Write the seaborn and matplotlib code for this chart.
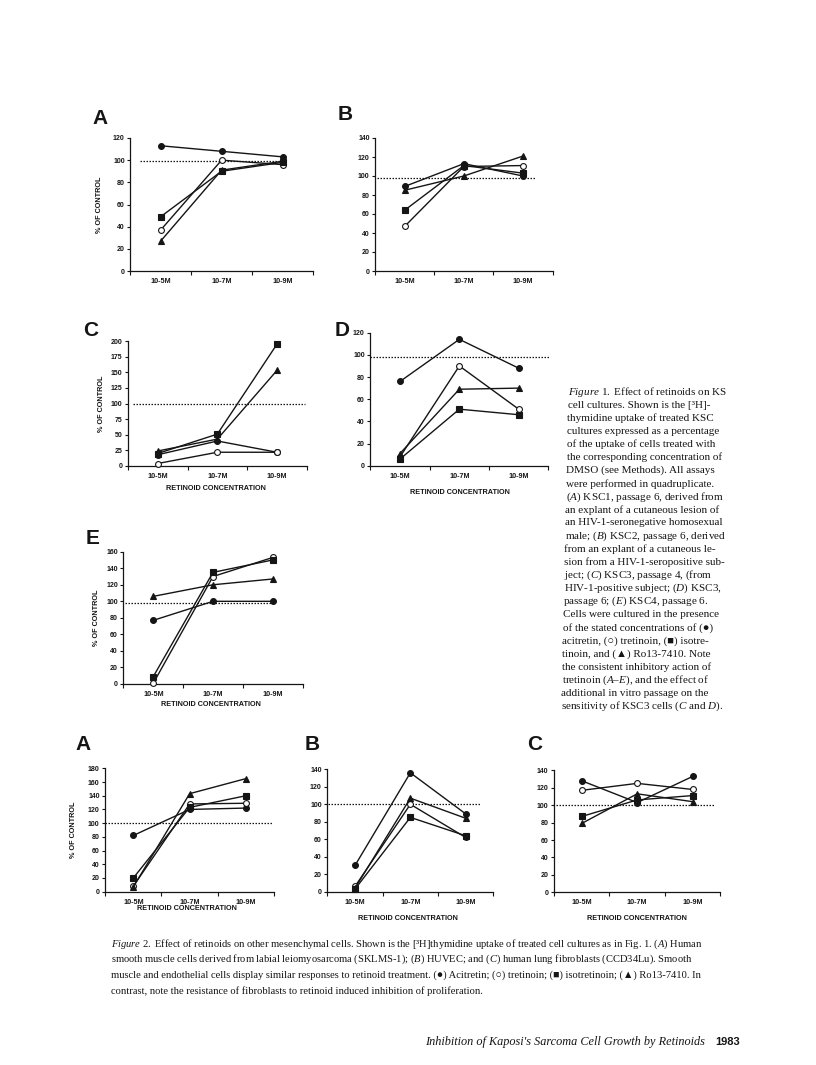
import numpy as np
import pandas as pd
import matplotlib
matplotlib.use("Agg")
import matplotlib.pyplot as plt
import seaborn as sns

sns.set_theme(style="ticks")
plt.rcParams['font.family'] = ['Liberation Sans', 'DejaVu Sans']
plt.rcParams['mathtext.fontset'] = 'custom'
plt.rcParams['mathtext.rm'] = 'Liberation Serif'
plt.rcParams['mathtext.it'] = 'Liberation Serif:italic'

concentrations = ["10-5M", "10-7M", "10-9M"]
retinoids = ["acitretin", "tretinoin", "isotretinoin", "Ro13-7410"]

# % of control; rows follow `retinoids`, columns follow `concentrations`
fig1_a = [[113, 108, 103], [37, 100, 96], [49, 90, 98], [27, 91, 99]]
fig1_b = [[89, 113, 100], [47, 110, 111], [64, 111, 103], [85, 100, 121]]
fig1_c = [[18, 40, 22], [4, 22, 22], [20, 51, 195], [24, 43, 153]]
fig1_d = [[76, 114, 88], [8, 90, 51], [6, 51, 46], [11, 69, 70]]
fig1_e = [[77, 100, 100], [1, 130, 153], [9, 135, 150], [106, 120, 127]]
fig2_a = [[82, 120, 122], [8, 128, 129], [20, 123, 140], [7, 143, 165]]
fig2_b = [[30, 136, 89], [6, 100, 62], [3, 85, 64], [4, 107, 84]]
fig2_c = [[128, 103, 133], [117, 125, 118], [87, 106, 111], [79, 113, 104]]

W, H = 816, 1065
INK = '#151515'

marker_style = {
    "acitretin": dict(marker='o', markerfacecolor=INK),
    "tretinoin": dict(marker='o', markerfacecolor='white'),
    "isotretinoin": dict(marker='s', markerfacecolor=INK),
    "Ro13-7410": dict(marker='^', markerfacecolor=INK),
}

# pixel layout of each panel
panels = [
    dict(data=fig1_a, letter="A", lpos=(100, 118), x0=160.7, x2=282.5, y0=271, ytop=138, ymax=120, step=20,
         ref=(99, -0.34, 2.07), ylab=103, xlab=None),
    dict(data=fig1_b, letter="B", lpos=(345, 115), x0=404.7, x2=523, y0=271, ytop=138, ymax=140, step=20,
         ref=(98, -0.47, 2.22), ylab=None, xlab=None),
    dict(data=fig1_c, letter="C", lpos=(91, 330), x0=157.7, x2=277, y0=466, ytop=341, ymax=200, step=25,
         ref=(100, -0.41, 2.47), ylab=105, xlab=(216, 488)),
    dict(data=fig1_d, letter="D", lpos=(342, 331), x0=400, x2=518.7, y0=465.7, ytop=332.7, ymax=120, step=20,
         ref=(98, -0.5, 2.53), ylab=None, xlab=(460, 493)),
    dict(data=fig1_e, letter="E", lpos=(93, 538), x0=153.3, x2=272.7, y0=684, ytop=551.7, ymax=160, step=20,
         ref=(98, -0.47, 2.0), ylab=100, xlab=(211, 704)),
    dict(data=fig2_a, letter="A", lpos=(83, 745), x0=133.3, x2=246, y0=891.7, ytop=768.3, ymax=180, step=20,
         ref=(100, -0.5, 2.47), ylab=77, xlab=(187, 909)),
    dict(data=fig2_b, letter="B", lpos=(312, 745), x0=355, x2=465.7, y0=891.7, ytop=769.3, ymax=140, step=20,
         ref=(100, -0.49, 2.25), ylab=None, xlab=(408, 918)),
    dict(data=fig2_c, letter="C", lpos=(535, 745), x0=581.7, x2=692.7, y0=892.3, ytop=770.3, ymax=140, step=20,
         ref=(100, -0.52, 2.38), ylab=None, xlab=(637, 918)),
]

fig1_caption = [
    r"$\mathit{Figure\ 1.}$ Effect of retinoids on KS",
    "cell cultures. Shown is the [³H]-",
    "thymidine uptake of treated KSC",
    "cultures expressed as a percentage",
    "of the uptake of cells treated with",
    "the corresponding concentration of",
    "DMSO (see Methods). All assays",
    "were performed in quadruplicate.",
    r"($\mathit{A}$) KSC1, passage 6, derived from",
    "an explant of a cutaneous lesion of",
    "an HIV-1-seronegative homosexual",
    r"male; ($\mathit{B}$) KSC2, passage 6, derived",
    "from an explant of a cutaneous le-",
    "sion from a HIV-1-seropositive sub-",
    r"ject; ($\mathit{C}$) KSC3, passage 4, (from",
    r"HIV-1-positive subject; ($\mathit{D}$) KSC3,",
    r"passage 6; ($\mathit{E}$) KSC4, passage 6.",
    "Cells were cultured in the presence",
    "of the stated concentrations of (●)",
    "acitretin, (○) tretinoin, (■) isotre-",
    "tinoin, and (▲) Ro13-7410. Note",
    "the consistent inhibitory action of",
    r"tretinoin ($\mathit{A}$–$\mathit{E}$), and the effect of",
    "additional in vitro passage on the",
    r"sensitivity of KSC3 cells ($\mathit{C}$ and $\mathit{D}$).",
]

fig2_caption = [
    r"$\mathit{Figure\ 2.}$ Effect of retinoids on other mesenchymal cells. Shown is the [³H]thymidine uptake of treated cell cultures as in Fig. 1. ($\mathit{A}$) Human",
    r"smooth muscle cells derived from labial leiomyosarcoma (SKLMS-1); ($\mathit{B}$) HUVEC; and ($\mathit{C}$) human lung fibroblasts (CCD34Lu). Smooth",
    "muscle and endothelial cells display similar responses to retinoid treatment. (●) Acitretin; (○) tretinoin; (■) isotretinoin; (▲) Ro13-7410. In",
    "contrast, note the resistance of fibroblasts to retinoid induced inhibition of proliferation.",
]

serif = ['Liberation Serif', 'DejaVu Serif']
bold = dict(fontweight='bold', color=INK)

fig = plt.figure(figsize=(W / 100, H / 100), dpi=100)
fig.patch.set_facecolor('white')

for p in panels:
    sp = (p['x2'] - p['x0']) / 2
    left = p['x0'] - 0.5 * sp
    right = p['x2'] + 0.5 * sp
    ax = fig.add_axes([left / W, 1 - p['y0'] / H, (right - left) / W, (p['y0'] - p['ytop']) / H])
    ax.set_facecolor('white')

    df = pd.DataFrame([(j, r, p['data'][i][j]) for i, r in enumerate(retinoids)
                       for j in range(len(concentrations))],
                      columns=['pos', 'retinoid', 'value'])
    for r in retinoids:
        sub = df[df.retinoid == r]
        sns.lineplot(data=sub, x='pos', y='value', ax=ax, color=INK, lw=1.0,
                     markersize=4.2, markeredgecolor=INK, markeredgewidth=0.8,
                     clip_on=False, zorder=3, **marker_style[r])

    ry, rx0, rx1 = p['ref']
    ax.hlines(ry, rx0, rx1, colors=INK, linestyles=(0, (1.2, 1.2)), lw=0.9, zorder=2, clip_on=False)

    ax.set_xlim(-0.5, 2.5)
    ax.set_ylim(0, p['ymax'])
    ax.set_xticks(range(len(concentrations)))
    ax.set_xticklabels(concentrations, fontsize=5.2, **bold)
    ax.set_xticks([-0.5, 0.5, 1.5, 2.5], minor=True)
    ax.tick_params(axis='x', which='major', length=0, pad=5)
    ax.tick_params(axis='x', which='minor', length=3, width=0.8, direction='out', color=INK)
    yt = np.arange(0, p['ymax'] + 1, p['step'])
    ax.set_yticks(yt)
    ax.set_yticklabels([str(v) for v in yt], fontsize=5, **bold)
    ax.tick_params(axis='y', length=2.5, width=0.8, pad=1.5, direction='out', color=INK)
    sns.despine(ax=ax)
    for s in ['left', 'bottom']:
        ax.spines[s].set_linewidth(0.9)
        ax.spines[s].set_color(INK)
    ax.grid(False)

    if p['ylab'] is not None:
        ax.set_ylabel('% OF CONTROL', fontsize=5.2, **bold)
        ax.yaxis.set_label_coords((p['ylab'] - left) / (right - left), 0.5)
    else:
        ax.set_ylabel('')
    if p['xlab'] is not None:
        lbl = ax.set_xlabel('RETINOID CONCENTRATION', fontsize=5.2, **bold)
        lbl.set_va('center')
        ax.xaxis.set_label_coords((p['xlab'][0] - left) / (right - left),
                                  -(p['xlab'][1] - p['y0']) / (p['y0'] - p['ytop']))
    else:
        ax.set_xlabel('')

    fig.text(p['lpos'][0] / W, 1 - p['lpos'][1] / H, p['letter'], fontsize=15,
             ha='center', va='center', **bold)

for i, line in enumerate(fig1_caption):
    fig.text((568 - 7 * i / 24) / W, 1 - (392 + 13.1 * i) / H, line, family=serif,
             fontsize=8, color=INK, ha='left', va='center')

for i, line in enumerate(fig2_caption):
    fig.text(111 / W, 1 - (944 + 15.6 * i) / H, line, family=serif,
             fontsize=7.6, color=INK, ha='left', va='center')

fig.text(425 / W, 1 - 1042 / H, "Inhibition of Kaposi's Sarcoma Cell Growth by Retinoids",
         family=serif, style='italic', fontsize=8.8, color=INK, ha='left', va='center')
fig.text(715 / W, 1 - 1042 / H, "1983", fontsize=8, ha='left', va='center', **bold)

fig.savefig('out.png', dpi=100, facecolor='white')
